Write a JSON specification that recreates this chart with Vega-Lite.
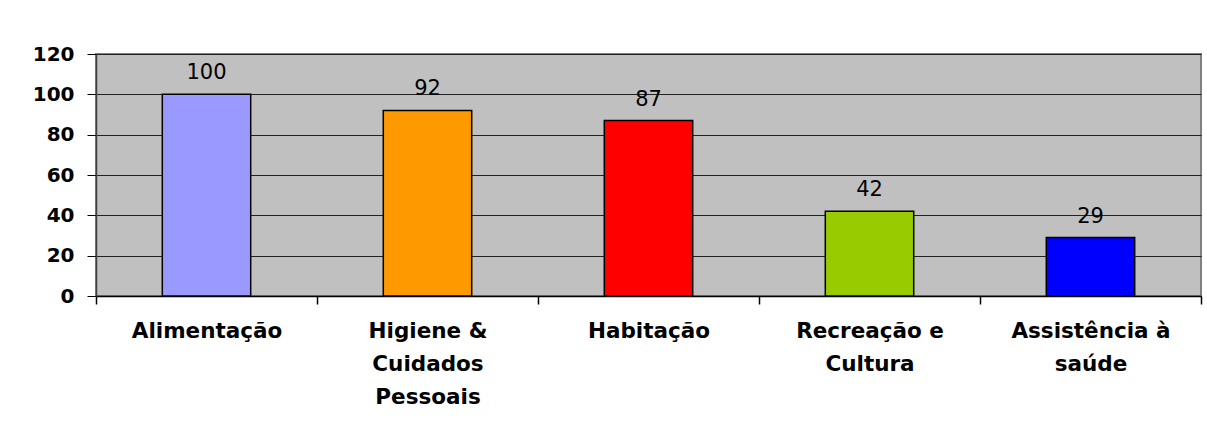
{
  "$schema": "https://vega.github.io/schema/vega-lite/v6.json",
  "autosize": {"type": "none"},
  "width": 1105,
  "height": 242,
  "padding": {"left": 96, "top": 54, "right": 6, "bottom": 139},
  "background": "white",
  "config": {
    "view": {"fill": "#C0C0C0", "stroke": "#808080", "strokeWidth": 2},
    "font": "DejaVu Sans"
  },
  "data": {
    "values": [
      {"categoria": "Alimentação", "valor": 100, "cor": "#9999FF"},
      {"categoria": "Higiene &|Cuidados|Pessoais", "valor": 92, "cor": "#FF9900"},
      {"categoria": "Habitação", "valor": 87, "cor": "#FF0000"},
      {"categoria": "Recreação e|Cultura", "valor": 42, "cor": "#99CC00"},
      {"categoria": "Assistência à|saúde", "valor": 29, "cor": "#0000FF"}
    ]
  },
  "encoding": {
    "x": {
      "field": "categoria",
      "type": "nominal",
      "sort": null,
      "scale": {"paddingInner": 0, "paddingOuter": 0},
      "axis": {
        "title": null,
        "labelAngle": 0,
        "labelExpr": "split(datum.label, '|')",
        "labelFont": "DejaVu Sans",
        "labelFontWeight": "bold",
        "labelFontSize": 21.5,
        "labelColor": "#000000",
        "labelLineHeight": 33,
        "labelBaseline": "top",
        "labelPadding": 16,
        "labelLimit": 300,
        "ticks": true,
        "tickBand": "extent",
        "tickExtra": true,
        "tickOpacity": 1,
        "tickSize": 8,
        "tickColor": "#000000",
        "tickWidth": 1.5,
        "domainColor": "#000000",
        "domainWidth": 1.5
      }
    },
    "y": {
      "field": "valor",
      "type": "quantitative",
      "scale": {"domain": [0, 120], "nice": false},
      "axis": {
        "title": null,
        "values": [0, 20, 40, 60, 80, 100, 120],
        "labelFont": "DejaVu Sans",
        "labelFontWeight": "bold",
        "labelFontSize": 20,
        "labelColor": "#000000",
        "labelPadding": 13,
        "tickSize": 9,
        "tickColor": "#000000",
        "tickWidth": 1,
        "domainColor": "#404040",
        "domainWidth": 1.5,
        "grid": true,
        "gridColor": "#222222",
        "gridWidth": 1
      }
    }
  },
  "layer": [
    {
      "mark": {"type": "bar", "stroke": "#000000", "strokeWidth": 1.5, "width": {"band": 0.4}},
      "encoding": {
        "color": {"field": "cor", "type": "nominal", "scale": null}
      }
    },
    {
      "mark": {"type": "text", "baseline": "bottom", "dy": -11, "font": "DejaVu Sans", "fontSize": 21, "color": "#000000"},
      "encoding": {
        "text": {"field": "valor", "type": "quantitative"}
      }
    }
  ]
}
